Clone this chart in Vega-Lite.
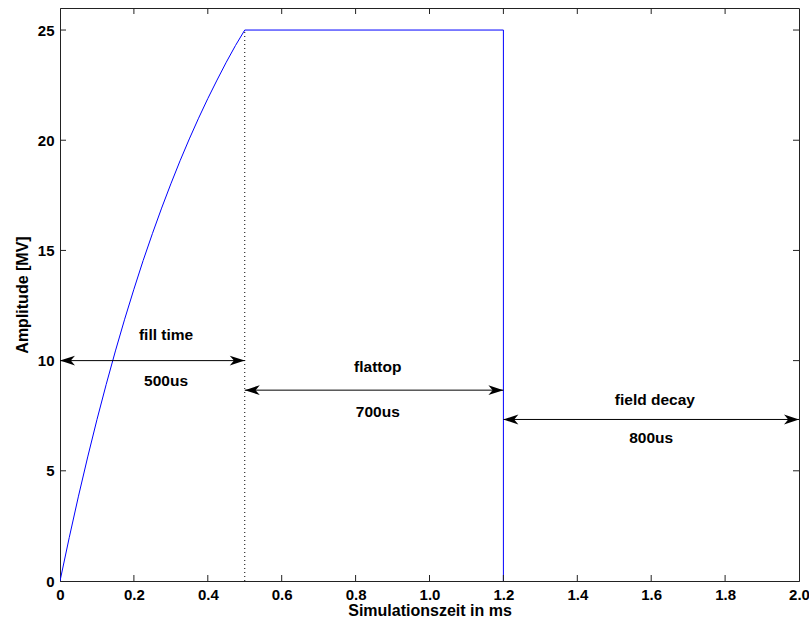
{
  "$schema": "https://vega.github.io/schema/vega-lite/v6.json",
  "autosize": "none",
  "width": 739,
  "height": 573,
  "padding": {"left": 60, "top": 8, "right": 10, "bottom": 40},
  "background": "white",
  "config": {
    "view": {"stroke": "#222", "strokeWidth": 1},
    "font": "Liberation Sans",
    "axis": {
      "grid": false,
      "domainColor": "#222",
      "tickColor": "#222",
      "labelColor": "#000",
      "titleColor": "#000",
      "labelFont": "Liberation Sans",
      "titleFont": "Liberation Sans",
      "labelFontSize": 15,
      "titleFontSize": 16,
      "titleFontWeight": "bold",
      "labelFontWeight": "bold"
    }
  },
  "datasets": {
    "signal": [
      {"t": 0, "a": 0},
      {"t": 0.025, "a": 1.97},
      {"t": 0.05, "a": 3.85},
      {"t": 0.075, "a": 5.63},
      {"t": 0.1, "a": 7.32},
      {"t": 0.125, "a": 8.92},
      {"t": 0.15, "a": 10.44},
      {"t": 0.175, "a": 11.88},
      {"t": 0.2, "a": 13.24},
      {"t": 0.225, "a": 14.54},
      {"t": 0.25, "a": 15.76},
      {"t": 0.275, "a": 16.92},
      {"t": 0.3, "a": 18.02},
      {"t": 0.325, "a": 19.07},
      {"t": 0.35, "a": 20.06},
      {"t": 0.375, "a": 21.0},
      {"t": 0.4, "a": 21.89},
      {"t": 0.425, "a": 22.73},
      {"t": 0.45, "a": 23.54},
      {"t": 0.475, "a": 24.3},
      {"t": 0.5, "a": 25.0},
      {"t": 1.2, "a": 25.0},
      {"t": 1.2, "a": 0}
    ],
    "arrows": [
      {"x": 0, "x2": 0.5, "y": 10},
      {"x": 0.5, "x2": 1.2, "y": 8.66},
      {"x": 1.2, "x2": 2.0, "y": 7.33}
    ],
    "heads": [
      {"x": 0, "y": 10, "dir": "left"},
      {"x": 0.5, "y": 10, "dir": "right"},
      {"x": 0.5, "y": 8.66, "dir": "left"},
      {"x": 1.2, "y": 8.66, "dir": "right"},
      {"x": 1.2, "y": 7.33, "dir": "left"},
      {"x": 2.0, "y": 7.33, "dir": "right"}
    ],
    "labels": [
      {"x": 0.287, "y": 11.15, "text": "fill time"},
      {"x": 0.287, "y": 9.07, "text": "500us"},
      {"x": 0.86, "y": 9.71, "text": "flattop"},
      {"x": 0.86, "y": 7.67, "text": "700us"},
      {"x": 1.61, "y": 8.23, "text": "field decay"},
      {"x": 1.6, "y": 6.51, "text": "800us"}
    ],
    "dotted": [
      {"x": 0.5, "y": 0, "y2": 25}
    ],
    "xticks": [
      {"v": 0.2}, {"v": 0.4}, {"v": 0.6}, {"v": 0.8}, {"v": 1.0},
      {"v": 1.2}, {"v": 1.4}, {"v": 1.6}, {"v": 1.8}
    ],
    "yticks": [
      {"v": 5}, {"v": 10}, {"v": 15}, {"v": 20}, {"v": 25}
    ]
  },
  "layer": [
    {
      "data": {"name": "signal"},
      "mark": {"type": "line", "color": "#0000ff", "strokeWidth": 1, "clip": true},
      "encoding": {
        "x": {
          "field": "t", "type": "quantitative",
          "scale": {"domain": [0, 2], "nice": false, "zero": false},
          "axis": {
            "orient": "bottom",
            "values": [0, 0.2, 0.4, 0.6, 0.8, 1.0, 1.2, 1.4, 1.6, 1.8, 2.0],
            "labelExpr": "datum.value == 0 ? '0' : format(datum.value, '.1f')",
            "ticks": false,
            "labelPadding": 6,
            "title": "Simulationszeit in ms",
            "titlePadding": 0,
            "labelFlush": false
          }
        },
        "y": {
          "field": "a", "type": "quantitative",
          "scale": {"domain": [0, 26], "nice": false},
          "axis": {
            "orient": "left",
            "values": [0, 5, 10, 15, 20, 25],
            "ticks": false,
            "labelPadding": 6,
            "title": "Amplitude [MV]",
            "titlePadding": 7,
            "labelFlush": false
          }
        }
      }
    },
    {
      "data": {"name": "xticks"},
      "mark": {"type": "rule", "color": "#222", "strokeWidth": 1, "y2Offset": -6},
      "encoding": {
        "x": {"field": "v", "type": "quantitative"},
        "y": {"datum": 0, "type": "quantitative"},
        "y2": {"datum": 0}
      }
    },
    {
      "data": {"name": "xticks"},
      "mark": {"type": "rule", "color": "#222", "strokeWidth": 1, "y2Offset": 6},
      "encoding": {
        "x": {"field": "v", "type": "quantitative"},
        "y": {"datum": 26, "type": "quantitative"},
        "y2": {"datum": 26}
      }
    },
    {
      "data": {"name": "yticks"},
      "mark": {"type": "rule", "color": "#222", "strokeWidth": 1, "x2Offset": 6},
      "encoding": {
        "y": {"field": "v", "type": "quantitative"},
        "x": {"datum": 0, "type": "quantitative"},
        "x2": {"datum": 0}
      }
    },
    {
      "data": {"name": "yticks"},
      "mark": {"type": "rule", "color": "#222", "strokeWidth": 1, "x2Offset": -6},
      "encoding": {
        "y": {"field": "v", "type": "quantitative"},
        "x": {"datum": 2, "type": "quantitative"},
        "x2": {"datum": 2}
      }
    },
    {
      "data": {"name": "dotted"},
      "mark": {"type": "rule", "color": "#000", "strokeWidth": 1, "strokeDash": [1, 3], "clip": true},
      "encoding": {
        "x": {"field": "x", "type": "quantitative"},
        "y": {"field": "y", "type": "quantitative"},
        "y2": {"field": "y2"}
      }
    },
    {
      "data": {"name": "arrows"},
      "mark": {"type": "rule", "color": "#000", "strokeWidth": 1, "clip": true},
      "encoding": {
        "x": {"field": "x", "type": "quantitative"},
        "x2": {"field": "x2"},
        "y": {"field": "y", "type": "quantitative"}
      }
    },
    {
      "data": {"name": "heads"},
      "mark": {"type": "point", "filled": true, "color": "#000", "opacity": 1, "size": 900, "strokeWidth": 0, "clip": true},
      "encoding": {
        "x": {"field": "x", "type": "quantitative"},
        "y": {"field": "y", "type": "quantitative"},
        "shape": {
          "field": "dir", "type": "nominal",
          "scale": {
            "domain": ["left", "right"],
            "range": ["M0,0 L1,-0.33 L0.72,0 L1,0.33 Z", "M0,0 L-1,-0.33 L-0.72,0 L-1,0.33 Z"]
          },
          "legend": null
        }
      }
    },
    {
      "data": {"name": "labels"},
      "mark": {"type": "text", "font": "Liberation Sans", "fontSize": 15.5, "fontWeight": "bold", "color": "#000", "align": "center", "baseline": "middle", "clip": true},
      "encoding": {
        "x": {"field": "x", "type": "quantitative"},
        "y": {"field": "y", "type": "quantitative"},
        "text": {"field": "text"}
      }
    }
  ]
}
